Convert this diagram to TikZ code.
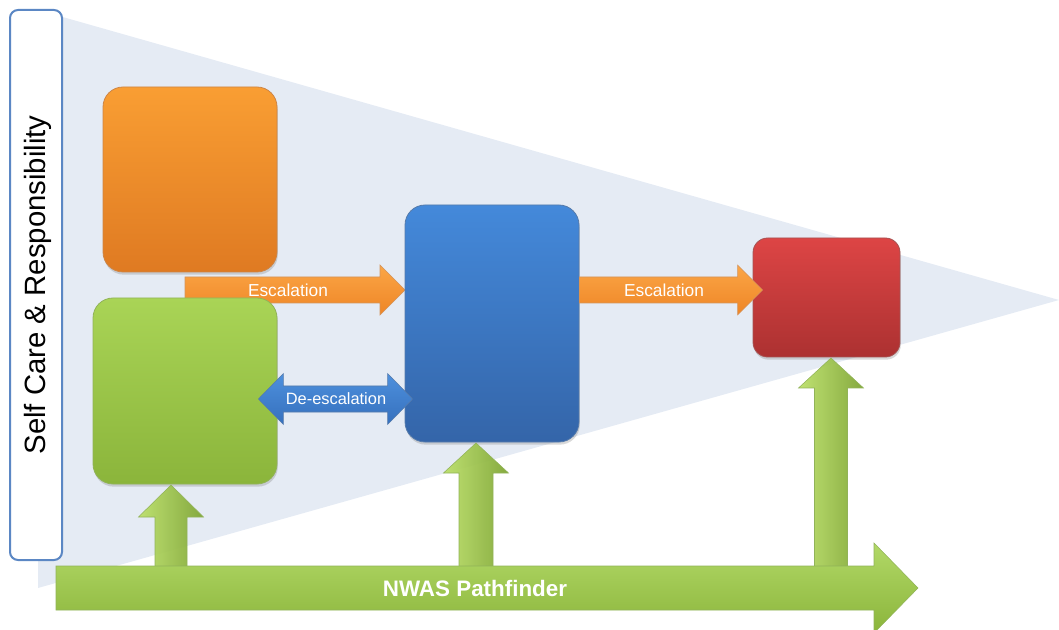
\documentclass[tikz,border=0pt]{standalone}
\usepackage{fontspec}
\setmainfont{Liberation Sans}
\usetikzlibrary{calc,shadows}
\definecolor{tri}{HTML}{E5EBF4}
\definecolor{lblborder}{HTML}{5B87C4}
\definecolor{orT}{HTML}{F99E33}
\definecolor{orB}{HTML}{DF7A22}
\definecolor{orD}{HTML}{C06618}
\definecolor{grT}{HTML}{A9D456}
\definecolor{grB}{HTML}{8BB53B}
\definecolor{grD}{HTML}{76A030}
\definecolor{blT}{HTML}{4489DA}
\definecolor{blB}{HTML}{3465A9}
\definecolor{blD}{HTML}{2C5A96}
\definecolor{rdT}{HTML}{DD4545}
\definecolor{rdB}{HTML}{AC3131}
\definecolor{rdD}{HTML}{902828}
\definecolor{arT}{HTML}{FBA646}
\definecolor{arB}{HTML}{EE8526}
\definecolor{daT}{HTML}{4E90DD}
\definecolor{daB}{HTML}{3570BD}
\definecolor{upL}{HTML}{BCE06A}
\definecolor{upM}{HTML}{9BC348}
\definecolor{upR}{HTML}{7FA535}
\newcommand{\HArrow}[6]{\path[#1] ($(#2)+(0,-#4)$) -- ($(#3)+(-#6,-#4)$) -- ($(#3)+(-#6,-#5)$) -- (#3) -- ($(#3)+(-#6,#5)$) -- ($(#3)+(-#6,#4)$) -- ($(#2)+(0,#4)$) -- cycle;}
\newcommand{\DArrow}[6]{\path[#1] (#2) -- ($(#2)+(#6,-#5)$) -- ($(#2)+(#6,-#4)$) -- ($(#3)+(-#6,-#4)$) -- ($(#3)+(-#6,-#5)$) -- (#3) -- ($(#3)+(-#6,#5)$) -- ($(#3)+(-#6,#4)$) -- ($(#2)+(#6,#4)$) -- ($(#2)+(#6,#5)$) -- cycle;}
\newcommand{\VArrow}[6]{\path[#1] ($(#2)+(-#4,0)$) -- ($(#3)+(-#4,#6)$) -- ($(#3)+(-#5,#6)$) -- (#3) -- ($(#3)+(#5,#6)$) -- ($(#3)+(#4,#6)$) -- ($(#2)+(#4,0)$) -- cycle;}
\tikzset{
  box/.style={rectangle, rounded corners=15pt, inner sep=0pt, line width=0.6pt,
    drop shadow={shadow xshift=0.6pt, shadow yshift=-2pt, opacity=0.3}},
  orarrow/.style={top color=arT, bottom color=arB, draw=orD!70, line width=0.4pt},
  blarrow/.style={top color=daT, bottom color=daB, draw=blD!80, line width=0.4pt},
  uparrow/.style={left color=upL, middle color=upM, right color=upR, draw=grD!80, line width=0.4pt, fill opacity=0.95},
  bigarrow/.style={top color=grT!90!white, bottom color=grB, draw=grD!80, line width=0.4pt},
  wlbl/.style={text=white, inner sep=0pt, font=\fontsize{13}{15}\selectfont},
}
\begin{document}
\begin{tikzpicture}[x=0.75pt, y=-0.75pt]
\useasboundingbox (0,0) rectangle (1059,630);
% background triangle
\fill[tri] (38,10) -- (1059,300) -- (38,588) -- cycle;
% side label
\node[draw=lblborder, line width=1.5pt, fill=white, rounded corners=6pt,
  minimum width=39pt, minimum height=412.5pt, inner sep=0pt] (side) at (36,285) {};
\node[rotate=90, inner sep=0pt, font=\fontsize{22}{26}\selectfont] (sidetext) at (37.5,285) {Self Care \& Responsibility};
% escalation arrow 1 (behind boxes)
\coordinate (e1s) at (185,290);
\coordinate (e1e) at (405,290);
\HArrow{orarrow}{e1s}{e1e}{13}{25}{25}
% boxes
\node[box, minimum width=130.5pt, minimum height=138.75pt, top color=orT, bottom color=orB, draw=orD!80] (orange) at (190,179.5) {};
\node[box, minimum width=138pt, minimum height=139.5pt, top color=grT, bottom color=grB, draw=grD!80] (green) at (185,391) {};
\node[box, minimum width=130.5pt, minimum height=177.75pt, top color=blT, bottom color=blB, draw=blD!80] (blue) at (492,323.5) {};
\node[box, rounded corners=11pt, minimum width=110.25pt, minimum height=89.25pt, top color=rdT, bottom color=rdB, draw=rdD!80] (red) at (826.5,297.5) {};
\node[wlbl] (esc1) at (288,290) {Escalation};
% escalation arrow 2
\coordinate (e2s) at (blue.east |- e1s);
\coordinate (e2e) at ($(red.west |- e1s)+(10,0)$);
\HArrow{orarrow}{e2s}{e2e}{13}{25}{25}
\node[wlbl] (esc2) at (664,290) {Escalation};
% de-escalation double arrow
\coordinate (d1) at ($(green.east |- 0,399)+(-19,0)$);
\coordinate (d2) at ($(blue.west |- 0,399)+(8,0)$);
\DArrow{blarrow}{d1}{d2}{13}{25.5}{25}
\node[wlbl, font=\fontsize{12.3}{14}\selectfont] (desc) at (336,399) {De-escalation};
% upward arrows
\coordinate (u1t) at (171,485);
\coordinate (u1b) at (171,570);
\VArrow{uparrow}{u1b}{u1t}{16}{32.5}{32}
\coordinate (u2t) at (476,443);
\coordinate (u2b) at (476,570);
\VArrow{uparrow}{u2b}{u2t}{17}{32.5}{30}
\coordinate (u3t) at (831,358);
\coordinate (u3b) at (831,570);
\VArrow{uparrow}{u3b}{u3t}{16.5}{32.5}{30}
% pathfinder arrow
\coordinate (p1) at (56,588);
\coordinate (p2) at (918,588);
\HArrow{bigarrow}{p1}{p2}{22}{45}{44}
\node[text=white, inner sep=0pt, font=\bfseries\fontsize{16.8}{20}\selectfont] (path) at (475,588.5) {NWAS Pathfinder};
\end{tikzpicture}
\end{document}
